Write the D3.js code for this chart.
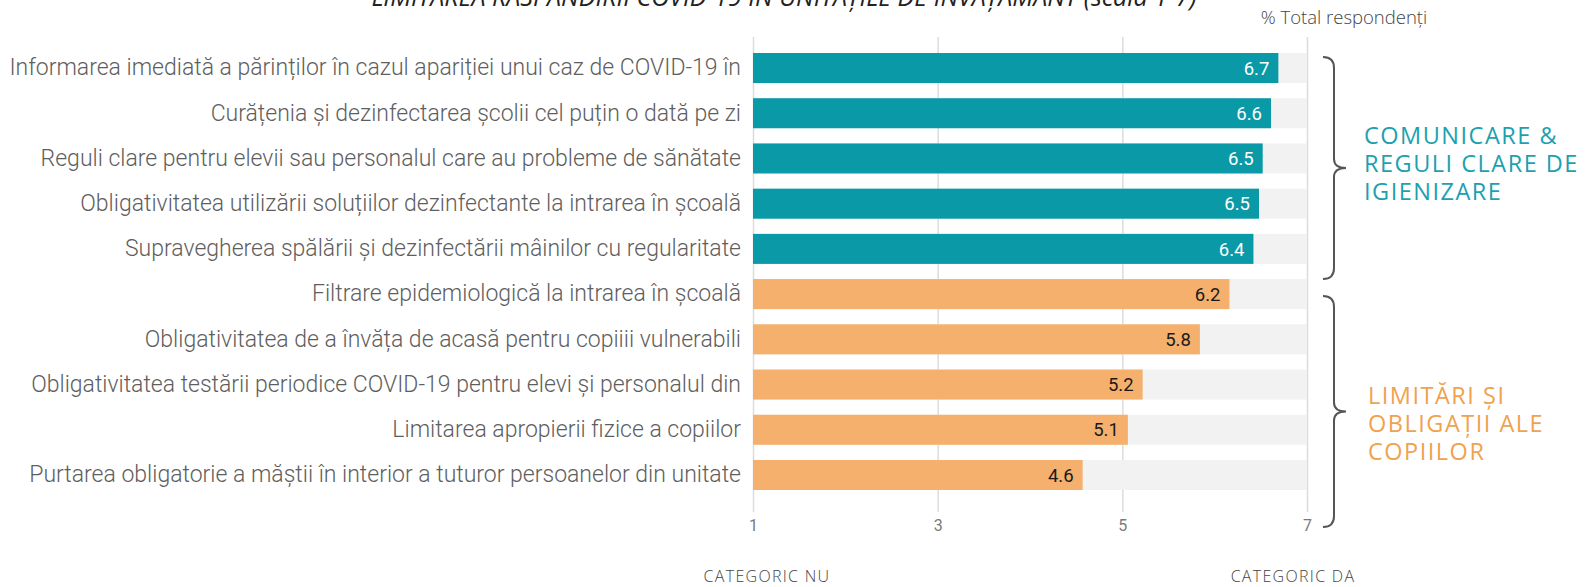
<!DOCTYPE html>
<html lang="ro">
<head>
<meta charset="utf-8">
<title>Limitarea raspandirii COVID-19</title>
<script src="https://d3js.org/d3.v7.min.js"></script>
<style>
  body { margin: 0; background: #fff; }
  .tick line { stroke: #dcdcdc; stroke-width: 1.5px; }
  .xaxis text { font-family: Roboto, sans-serif; font-size: 16px; fill: #7a7a7a; }
  .yaxis text { font-family: Roboto, sans-serif; font-weight: 300; font-size: 23px; fill: #5e5e5e; }
  .grouplabel { font-family: 'Open Sans', sans-serif; font-size: 23.5px; letter-spacing: 1.5px; }
</style>
</head>
<body>
<script>
// data
var categories = [
  "Informarea imediată a părinților în cazul apariției unui caz de COVID-19 în",
  "Curățenia și dezinfectarea școlii cel puțin o dată pe zi",
  "Reguli clare pentru elevii sau personalul care au probleme de sănătate",
  "Obligativitatea utilizării soluțiilor dezinfectante la intrarea în școală",
  "Supravegherea spălării și dezinfectării mâinilor cu regularitate",
  "Filtrare epidemiologică la intrarea în școală",
  "Obligativitatea de a învăța de acasă pentru copiiii vulnerabili",
  "Obligativitatea testării periodice COVID-19 pentru elevi și personalul din",
  "Limitarea apropierii fizice a copiilor",
  "Purtarea obligatorie a măștii în interior a tuturor persoanelor din unitate"
];
var scores = [6.69, 6.61, 6.52, 6.48, 6.42, 6.16, 5.84, 5.22, 5.06, 4.57];
var groupOf = [0, 0, 0, 0, 0, 1, 1, 1, 1, 1];
var groupNames = [["COMUNICARE &", "REGULI CLARE DE", "IGIENIZARE"],
                  ["LIMITĂRI ȘI", "OBLIGAȚII ALE", "COPIILOR"]];
var groupColors = ["#0a99a6", "#f4b06c"];
var groupTextColors = ["#1ba1b0", "#f0a24f"];
var valueTextColors = ["#ffffff", "#1a1a1a"];
var xTicks = [1, 3, 5, 7];
var scaleMin = 1, scaleMax = 7;

var w = 1589, h = 587;

var svg = d3.select("body").append("svg")
  .attr("width", w)
  .attr("height", h);

var x = d3.scaleLinear()
  .domain([scaleMin, scaleMax])
  .range([753, 1307]);

var y = d3.scaleBand()
  .domain(categories)
  .range([45.4, 497.6])
  .paddingInner(0.336)
  .paddingOuter(0.168);

var axisY = 512, gridTop = 37;

// x axis with gridlines
var xAxis = d3.axisBottom(x)
  .tickValues(xTicks)
  .tickSize(-(axisY - gridTop))
  .tickPadding(8)
  .tickFormat(d3.format("d"));

svg.append("g")
  .attr("class", "xaxis")
  .attr("transform", `translate(0, ${axisY})`)
  .call(xAxis)
  .call(g => g.select(".domain").remove());

// background bars (full scale)
svg.append("g").selectAll("rect")
  .data(categories)
  .join("rect")
  .attr("x", x(scaleMin))
  .attr("y", d => y(d))
  .attr("width", x(scaleMax) - x(scaleMin))
  .attr("height", y.bandwidth())
  .attr("fill", "#f2f2f2");

// value bars
svg.append("g").selectAll("rect")
  .data(scores)
  .join("rect")
  .attr("x", x(scaleMin))
  .attr("y", (d, i) => y(categories[i]))
  .attr("width", d => x(d) - x(scaleMin))
  .attr("height", y.bandwidth())
  .attr("fill", (d, i) => groupColors[groupOf[i]]);

// value labels
svg.append("g").selectAll("text")
  .data(scores)
  .join("text")
  .attr("x", d => x(d) - 9)
  .attr("y", (d, i) => y(categories[i]) + y.bandwidth() / 2)
  .attr("dy", "0.36em")
  .attr("text-anchor", "end")
  .attr("font-family", "Roboto, sans-serif")
  .attr("font-size", "18.5px")
  .attr("fill", (d, i) => valueTextColors[groupOf[i]])
  .text(d => d3.format(".1f")(d));

// category labels
svg.append("g")
  .attr("class", "yaxis")
  .attr("transform", `translate(${x(scaleMin)}, 0)`)
  .call(d3.axisLeft(y).tickSize(0).tickPadding(12))
  .call(g => g.select(".domain").remove());

// braces
function brace(x0, top, bottom) {
  var mid = (top + bottom) / 2;
  var bx = x0 + 11, tx = x0 + 23;
  var p = d3.path();
  p.moveTo(x0, top);
  p.quadraticCurveTo(bx, top, bx, top + 11);
  p.lineTo(bx, mid - 9);
  p.quadraticCurveTo(bx, mid, tx, mid);
  p.quadraticCurveTo(bx, mid, bx, mid + 9);
  p.lineTo(bx, bottom - 11);
  p.quadraticCurveTo(bx, bottom, x0, bottom);
  return p.toString();
}

var bw = y.bandwidth();
var braceX = x(scaleMax) + 16;
var braces = [
  [y(categories[0]) + 4, y(categories[4]) + bw + 15],
  [y(categories[5]) + 17, axisY + 15]
];

braces.forEach(function(b, gi) {
  svg.append("path")
    .attr("d", brace(braceX, b[0], b[1]))
    .attr("fill", "none")
    .attr("stroke", "#555")
    .attr("stroke-width", 2);

  var mid = (b[0] + b[1]) / 2;
  var t = svg.append("text")
    .attr("class", "grouplabel")
    .attr("x", braceX + 41 + gi * 4)
    .attr("y", mid + (gi === 0 ? -24 : -8))
    .attr("fill", groupTextColors[gi]);
  t.selectAll("tspan")
    .data(groupNames[gi])
    .join("tspan")
    .attr("x", braceX + 41 + gi * 4)
    .attr("dy", (d, i) => i === 0 ? 0 : 28)
    .text(d => d);
});

// title (cut at top in the original)
svg.append("text")
  .attr("x", 784)
  .attr("y", 6)
  .attr("text-anchor", "middle")
  .attr("font-family", "'Open Sans', sans-serif")
  .attr("font-style", "italic")
  .attr("font-weight", 500)
  .attr("font-size", "25px")
  .attr("fill", "#222")
  .text("LIMITAREA RĂSPÂNDIRII COVID-19 ÎN UNITĂȚILE DE ÎNVĂȚĂMÂNT (scala 1-7)");

svg.append("text")
  .attr("x", 1344)
  .attr("y", 24)
  .attr("text-anchor", "middle")
  .attr("font-family", "'Open Sans', sans-serif")
  .attr("font-weight", 300)
  .attr("font-size", "18.5px")
  .attr("fill", "#444")
  .text("% Total respondenți");

// scale end labels
var endLabels = ["CATEGORIC NU", "CATEGORIC DA"];
var endPos = [767, 1293];
svg.append("g").selectAll("text")
  .data(endLabels)
  .join("text")
  .attr("x", (d, i) => endPos[i])
  .attr("y", 582)
  .attr("text-anchor", "middle")
  .attr("font-family", "'Open Sans', sans-serif")
  .attr("font-weight", 300)
  .attr("font-size", "16px")
  .attr("letter-spacing", "1.3px")
  .attr("fill", "#444")
  .text(d => d);
</script>
</body>
</html>
